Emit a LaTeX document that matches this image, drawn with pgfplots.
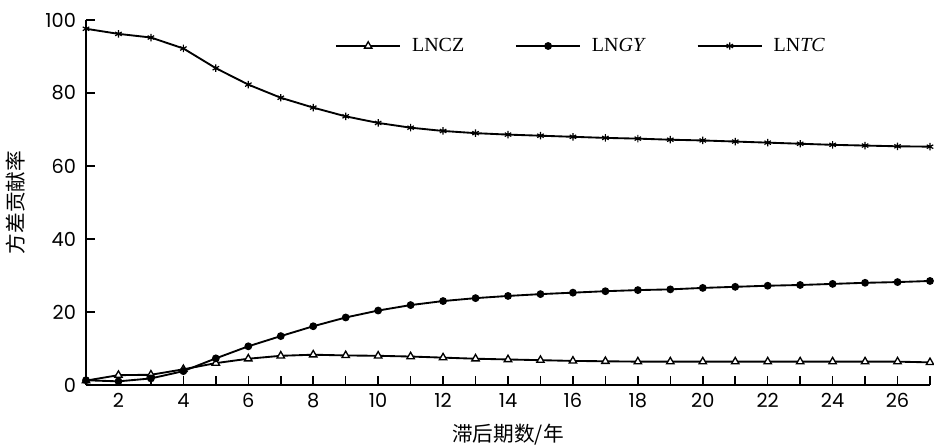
\documentclass[border=0pt]{standalone}
\usepackage{pgfplots}
\pgfplotsset{compat=1.18}
\usepackage{fontspec}
\setmainfont{Liberation Serif}
\newfontfamily\tickfont{Poppins}
\newfontfamily\cjk{Noto Sans CJK SC}
\begin{document}
\begin{tikzpicture}
\path[use as bounding box] (-64.5pt,-46.5pt) rectangle (636pt,288.75pt);
\begin{axis}[
  at={(0,0)}, anchor=origin,
  scale only axis, width=633pt, height=273.75pt,
  xmin=1, xmax=27, ymin=0, ymax=100,
  axis x line*=bottom, axis y line*=left,
  axis line style={line width=1.5pt, -},
  xtick={2,4,...,26}, minor xtick={1,3,...,27},
  ytick={0,20,...,100},
  tick align=inside,
  major tick length=7pt, minor tick length=7pt,
  every tick/.style={black, line width=1.2pt},
  ticklabel style={font=\tickfont\fontsize{14.5}{16}\selectfont},
  yticklabel style={xshift=-4pt},
  xticklabel style={yshift=-3pt},
  /pgf/number format/assume math mode=true,
  xlabel={\cjk 滞后期数/年},
  ylabel={\cjk 方差贡献率},
  label style={font=\cjk\fontsize{15.5}{17}\selectfont},
  xlabel style={yshift=-5pt},
  ylabel style={yshift=8pt},
  legend columns=3,
  legend style={draw=none, fill=none, at={(0.29,0.965)}, anchor=north west,
    font=\fontsize{15}{17}\selectfont,
    /tikz/every odd column/.append style={column sep=6pt},
    /tikz/every even column/.append style={column sep=36pt}},
  legend image code/.code={\draw[mark repeat=2,mark phase=2] plot coordinates {(0cm,0cm) (0.85cm,0cm) (1.7cm,0cm)};},
]
\addplot[black, line width=1.4pt, mark=triangle*, mark options={fill=white, line width=1pt, scale=1.6}] coordinates {
(1,1.2) (2,2.7) (3,2.8) (4,4.3) (5,6.0) (6,7.2) (7,8.0) (8,8.3) (9,8.1) (10,8.0)
(11,7.8) (12,7.5) (13,7.2) (14,7.0) (15,6.8) (16,6.6) (17,6.5) (18,6.4) (19,6.4) (20,6.4)
(21,6.4) (22,6.4) (23,6.4) (24,6.4) (25,6.4) (26,6.4) (27,6.2)};
\addlegendentry{LNCZ}
\addplot[black, line width=1.4pt, mark=*, mark options={fill=black, scale=1.1}] coordinates {
(1,1.3) (2,1.0) (3,1.8) (4,3.8) (5,7.3) (6,10.6) (7,13.4) (8,16.1) (9,18.5) (10,20.4)
(11,21.9) (12,23.0) (13,23.8) (14,24.4) (15,24.9) (16,25.3) (17,25.7) (18,26.0) (19,26.2) (20,26.6)
(21,26.9) (22,27.2) (23,27.4) (24,27.7) (25,28.0) (26,28.2) (27,28.5)};
\addlegendentry{LN\textit{GY}}
\addplot[black, line width=1.4pt, mark=asterisk, mark options={line width=0.9pt, scale=1.4}] coordinates {
(1,97.6) (2,96.2) (3,95.2) (4,92.2) (5,86.8) (6,82.3) (7,78.7) (8,76.0) (9,73.6) (10,71.8)
(11,70.5) (12,69.6) (13,69.0) (14,68.6) (15,68.3) (16,68.0) (17,67.7) (18,67.5) (19,67.2) (20,67.0)
(21,66.7) (22,66.4) (23,66.1) (24,65.8) (25,65.6) (26,65.4) (27,65.3)};
\addlegendentry{LN\textit{TC}}
\end{axis}
\end{tikzpicture}
\end{document}
